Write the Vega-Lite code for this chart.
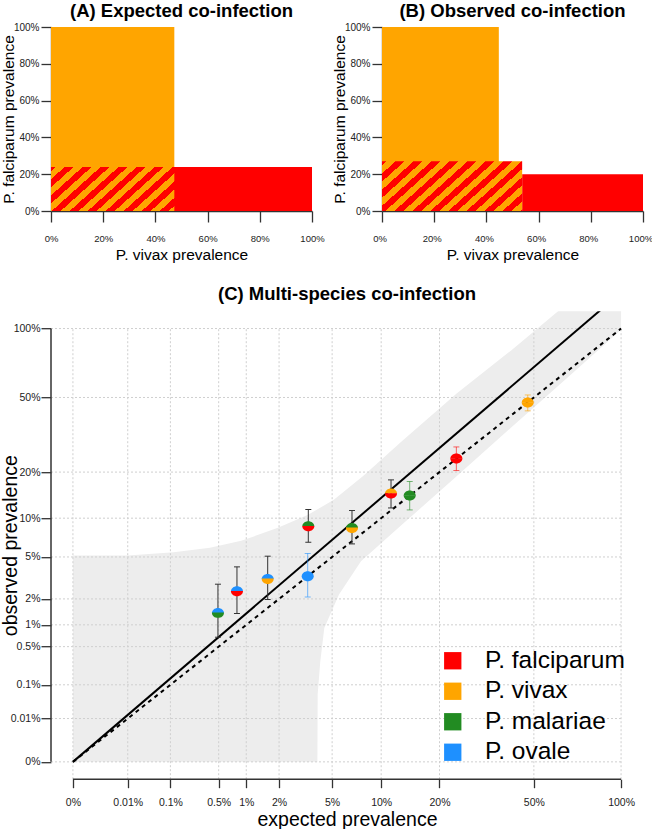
{
  "$schema": "https://vega.github.io/schema/vega-lite/v6.json",
  "padding": {"top": 2, "left": 0, "right": 0, "bottom": 0},
  "background": "white",
  "config": {
    "font": "Liberation Sans",
    "view": {"stroke": null},
    "axis": {"labelFont": "Liberation Sans", "titleFont": "Liberation Sans", "labelColor": "#222222", "titleColor": "#000000", "domainColor": "#333333", "tickColor": "#333333", "grid": false, "titleFontWeight": "normal", "zindex": 1, "labelOverlap": false, "tickCount": 20},
    "title": {"font": "Liberation Sans", "fontWeight": "bold", "fontSize": 18.5, "color": "#000000"}
  },
  "datasets": {
    "pts": [
      {"x": 0.0049, "y": 0.01397, "lo": 0.00685, "hi": 0.02826, "top": "P. ovale", "bottom": "P. malariae"},
      {"x": 0.00802, "y": 0.02407, "lo": 0.01375, "hi": 0.0410, "top": "P. ovale", "bottom": "P. falciparum"},
      {"x": 0.01594, "y": 0.03178, "lo": 0.01972, "hi": 0.05075, "top": "P. ovale", "bottom": "P. vivax"},
      {"x": 0.03365, "y": 0.03371, "lo": 0.02101, "hi": 0.05345, "top": "P. ovale", "bottom": "P. ovale"},
      {"x": 0.034, "y": 0.08747, "lo": 0.06603, "hi": 0.11504, "top": "P. malariae", "bottom": "P. falciparum"},
      {"x": 0.06718, "y": 0.08497, "lo": 0.06401, "hi": 0.11317, "top": "P. malariae", "bottom": "P. vivax"},
      {"x": 0.1134, "y": 0.1471, "lo": 0.1179, "hi": 0.1793, "top": "P. vivax", "bottom": "P. falciparum"},
      {"x": 0.1425, "y": 0.1428, "lo": 0.1143, "hi": 0.1752, "top": "P. malariae", "bottom": "P. malariae"},
      {"x": 0.2394, "y": 0.240, "lo": 0.2043, "hi": 0.279, "top": "P. falciparum", "bottom": "P. falciparum"},
      {"x": 0.474, "y": 0.473, "lo": 0.4305, "hi": 0.514, "top": "P. vivax", "bottom": "P. vivax"}
    ],
    "ticks": [{"v": 0}, {"v": 0.0001}, {"v": 0.001}, {"v": 0.005}, {"v": 0.01}, {"v": 0.02}, {"v": 0.05}, {"v": 0.1}, {"v": 0.2}, {"v": 0.5}, {"v": 1}],
    "bandUp": [
      {"x": 0, "y": 0.05134}, {"x": 0.0001, "y": 0.05155}, {"x": 0.001146, "y": 0.05488}, {"x": 0.003906, "y": 0.05955},
      {"x": 0.008883, "y": 0.067652}, {"x": 0.019565, "y": 0.085031}, {"x": 0.033871, "y": 0.10556}, {"x": 0.051337, "y": 0.13397},
      {"x": 0.078905, "y": 0.18975}, {"x": 0.1296, "y": 0.29987}, {"x": 0.2401, "y": 0.52201}, {"x": 0.4096, "y": 0.81451},
      {"x": 0.61344, "y": 1.16986}, {"x": 1, "y": 1.84206}
    ],
    "bandLo": [
      {"x": 0.03957, "y": 0}, {"x": 0.039745, "y": 0.000592}, {"x": 0.041482, "y": 0.002897}, {"x": 0.044232, "y": 0.009117},
      {"x": 0.055514, "y": 0.0222}, {"x": 0.07626, "y": 0.04595}, {"x": 0.1296, "y": 0.08953}, {"x": 0.2401, "y": 0.1886},
      {"x": 0.4096, "y": 0.3552}, {"x": 0.6561, "y": 0.61068}, {"x": 1, "y": 0.98807}
    ]
  },
  "spacing": 20.2,
  "resolve": {"scale": {"color": "independent"}, "legend": {"color": "independent"}},
  "vconcat": [
    {
      "spacing": 70,
      "bounds": "flush",
      "hconcat": [
        {
          "width": 261,
          "height": 184,
          "title": {"text": "(A) Expected co-infection", "frame": "group", "offset": -13.6, "baseline": "alphabetic", "anchor": "middle"},
          "layer": [
            {
              "data": {"values": [{"x": 0, "x2": 0.4725, "y": 0, "y2": 1}]},
              "mark": {"type": "rect", "color": "#FFA500"},
              "encoding": {
                "x": {"field": "x", "type": "quantitative", "scale": {"domain": [0, 1], "nice": false, "zero": false},
                  "axis": {"values": [0, 0.2, 0.4, 0.6, 0.8, 1], "tickCount": 20, "labelOverlap": false, "format": ".0%", "tickSize": 11, "tickWidth": 1.3, "domainWidth": 1.3, "labelPadding": 19, "labelBaseline": "alphabetic", "labelFontSize": 9.5, "labelFlush": false, "title": "P. vivax prevalence", "titleFontSize": 15.5, "titleY": 48.7, "titleBaseline": "alphabetic"}},
                "x2": {"field": "x2"},
                "y": {"field": "y", "type": "quantitative", "scale": {"domain": [0, 1], "nice": false, "zero": false},
                  "axis": {"values": [0, 0.2, 0.4, 0.6, 0.8, 1], "tickCount": 20, "labelOverlap": false, "format": ".0%", "tickSize": 10, "tickWidth": 1.3, "domainWidth": 1.3, "labelPadding": 2, "labelFontSize": 10, "labelFlush": false, "title": "P. falciparum prevalence", "titleFontSize": 15.5, "titleX": -37.6, "titleBaseline": "alphabetic"}},
                "y2": {"field": "y2"}
              }
            },
            {
              "data": {"values": [{"x": 0, "x2": 1, "y": 0, "y2": 0.239}]},
              "mark": {"type": "rect", "color": "#FF0000"},
              "encoding": {"x": {"field": "x", "type": "quantitative"}, "x2": {"field": "x2"}, "y": {"field": "y", "type": "quantitative"}, "y2": {"field": "y2"}}
            },
            {
              "data": {"values": [{"x": 0, "x2": 0.4725, "y": 0, "y2": 0.239}]},
              "mark": {"type": "rect", "color": {"gradient": "linear", "x1": 0, "y1": 0, "x2": 1.2068, "y2": 0.4785, "stops": [
                {"offset": 0, "color": "#FF0000"},
                {"offset": 0.0261, "color": "#FF0000"}, {"offset": 0.0261, "color": "#FFA500"},
                {"offset": 0.0784, "color": "#FFA500"}, {"offset": 0.0784, "color": "#FF0000"},
                {"offset": 0.1307, "color": "#FF0000"}, {"offset": 0.1307, "color": "#FFA500"},
                {"offset": 0.1830, "color": "#FFA500"}, {"offset": 0.1830, "color": "#FF0000"},
                {"offset": 0.2352, "color": "#FF0000"}, {"offset": 0.2352, "color": "#FFA500"},
                {"offset": 0.2875, "color": "#FFA500"}, {"offset": 0.2875, "color": "#FF0000"},
                {"offset": 0.3398, "color": "#FF0000"}, {"offset": 0.3398, "color": "#FFA500"},
                {"offset": 0.3920, "color": "#FFA500"}, {"offset": 0.3920, "color": "#FF0000"},
                {"offset": 0.4443, "color": "#FF0000"}, {"offset": 0.4443, "color": "#FFA500"},
                {"offset": 0.4966, "color": "#FFA500"}, {"offset": 0.4966, "color": "#FF0000"},
                {"offset": 0.5488, "color": "#FF0000"}, {"offset": 0.5488, "color": "#FFA500"},
                {"offset": 0.6011, "color": "#FFA500"}, {"offset": 0.6011, "color": "#FF0000"},
                {"offset": 0.6534, "color": "#FF0000"}, {"offset": 0.6534, "color": "#FFA500"},
                {"offset": 0.7056, "color": "#FFA500"}, {"offset": 0.7056, "color": "#FF0000"},
                {"offset": 0.7579, "color": "#FF0000"}, {"offset": 0.7579, "color": "#FFA500"},
                {"offset": 0.8102, "color": "#FFA500"}, {"offset": 0.8102, "color": "#FF0000"},
                {"offset": 0.8624, "color": "#FF0000"}, {"offset": 0.8624, "color": "#FFA500"},
                {"offset": 0.9147, "color": "#FFA500"}, {"offset": 0.9147, "color": "#FF0000"},
                {"offset": 0.9670, "color": "#FF0000"}, {"offset": 0.9670, "color": "#FFA500"},
                {"offset": 1, "color": "#FFA500"}
              ]}},
              "encoding": {"x": {"field": "x", "type": "quantitative"}, "x2": {"field": "x2"}, "y": {"field": "y", "type": "quantitative"}, "y2": {"field": "y2"}}
            }
          ]
        },
        {
          "width": 261,
          "height": 184,
          "title": {"text": "(B) Observed co-infection", "frame": "group", "offset": -13.6, "baseline": "alphabetic", "anchor": "middle"},
          "layer": [
            {
              "data": {"values": [{"x": 0, "x2": 0.4476, "y": 0, "y2": 1}]},
              "mark": {"type": "rect", "color": "#FFA500"},
              "encoding": {
                "x": {"field": "x", "type": "quantitative", "scale": {"domain": [0, 1], "nice": false, "zero": false},
                  "axis": {"values": [0, 0.2, 0.4, 0.6, 0.8, 1], "tickCount": 20, "labelOverlap": false, "format": ".0%", "tickSize": 11, "tickWidth": 1.3, "domainWidth": 1.3, "labelPadding": 19, "labelOffset": -2.5, "labelBaseline": "alphabetic", "labelFontSize": 9.5, "labelFlush": false, "title": "P. vivax prevalence", "titleFontSize": 15.5, "titleY": 48.7, "titleBaseline": "alphabetic"}},
                "x2": {"field": "x2"},
                "y": {"field": "y", "type": "quantitative", "scale": {"domain": [0, 1], "nice": false, "zero": false},
                  "axis": {"values": [0, 0.2, 0.4, 0.6, 0.8, 1], "tickCount": 20, "labelOverlap": false, "format": ".0%", "tickSize": 10, "tickWidth": 1.3, "domainWidth": 1.3, "labelPadding": 2, "labelFontSize": 10, "labelFlush": false, "title": "P. falciparum prevalence", "titleFontSize": 15.5, "titleX": -37.6, "titleBaseline": "alphabetic"}},
                "y2": {"field": "y2"}
              }
            },
            {
              "data": {"values": [{"x": 0.537, "x2": 1, "y": 0, "y2": 0.1995}]},
              "mark": {"type": "rect", "color": "#FF0000"},
              "encoding": {"x": {"field": "x", "type": "quantitative"}, "x2": {"field": "x2"}, "y": {"field": "y", "type": "quantitative"}, "y2": {"field": "y2"}}
            },
            {
              "data": {"values": [{"x": 0, "x2": 0.537, "y": 0, "y2": 0.27}]},
              "mark": {"type": "rect", "color": {"gradient": "linear", "x1": 0, "y1": 0, "x2": 1.2068, "y2": 0.4760, "stops": [
                {"offset": 0, "color": "#FF0000"},
                {"offset": 0.0230, "color": "#FF0000"}, {"offset": 0.0230, "color": "#FFA500"},
                {"offset": 0.0691, "color": "#FFA500"}, {"offset": 0.0691, "color": "#FF0000"},
                {"offset": 0.1152, "color": "#FF0000"}, {"offset": 0.1152, "color": "#FFA500"},
                {"offset": 0.1613, "color": "#FFA500"}, {"offset": 0.1613, "color": "#FF0000"},
                {"offset": 0.2074, "color": "#FF0000"}, {"offset": 0.2074, "color": "#FFA500"},
                {"offset": 0.2535, "color": "#FFA500"}, {"offset": 0.2535, "color": "#FF0000"},
                {"offset": 0.2996, "color": "#FF0000"}, {"offset": 0.2996, "color": "#FFA500"},
                {"offset": 0.3457, "color": "#FFA500"}, {"offset": 0.3457, "color": "#FF0000"},
                {"offset": 0.3918, "color": "#FF0000"}, {"offset": 0.3918, "color": "#FFA500"},
                {"offset": 0.4379, "color": "#FFA500"}, {"offset": 0.4379, "color": "#FF0000"},
                {"offset": 0.4840, "color": "#FF0000"}, {"offset": 0.4840, "color": "#FFA500"},
                {"offset": 0.5301, "color": "#FFA500"}, {"offset": 0.5301, "color": "#FF0000"},
                {"offset": 0.5762, "color": "#FF0000"}, {"offset": 0.5762, "color": "#FFA500"},
                {"offset": 0.6223, "color": "#FFA500"}, {"offset": 0.6223, "color": "#FF0000"},
                {"offset": 0.6684, "color": "#FF0000"}, {"offset": 0.6684, "color": "#FFA500"},
                {"offset": 0.7145, "color": "#FFA500"}, {"offset": 0.7145, "color": "#FF0000"},
                {"offset": 0.7606, "color": "#FF0000"}, {"offset": 0.7606, "color": "#FFA500"},
                {"offset": 0.8067, "color": "#FFA500"}, {"offset": 0.8067, "color": "#FF0000"},
                {"offset": 0.8528, "color": "#FF0000"}, {"offset": 0.8528, "color": "#FFA500"},
                {"offset": 0.8989, "color": "#FFA500"}, {"offset": 0.8989, "color": "#FF0000"},
                {"offset": 0.9450, "color": "#FF0000"}, {"offset": 0.9450, "color": "#FFA500"},
                {"offset": 0.9911, "color": "#FFA500"}, {"offset": 0.9911, "color": "#FF0000"},
                {"offset": 1, "color": "#FF0000"}
              ]}},
              "encoding": {"x": {"field": "x", "type": "quantitative"}, "x2": {"field": "x2"}, "y": {"field": "y", "type": "quantitative"}, "y2": {"field": "y2"}}
            }
          ]
        }
      ]
    },
    {
      "width": 592,
      "height": 468,
      "title": {"text": "(C) Multi-species co-infection", "frame": "group", "offset": -7, "baseline": "alphabetic", "anchor": "middle"},
      "layer": [
        {
          "data": {"name": "bandUp"},
          "mark": {"type": "area", "color": "#EDEDED", "opacity": 1, "clip": true},
          "encoding": {
            "x": {"field": "x", "type": "quantitative",
              "scale": {"type": "pow", "exponent": 0.25, "domain": [-0.00000256, 1.16986], "nice": false, "zero": false},
              "axis": {"values": [0, 0.0001, 0.001, 0.005, 0.01, 0.02, 0.05, 0.1, 0.2, 0.5, 1], "tickCount": 20, "labelExpr": "format(datum.value * 100, '~g') + '%'", "domain": false, "tickSize": 8.5, "tickWidth": 1.3, "labelPadding": 17.5, "labelBaseline": "alphabetic", "labelFontSize": 10.5, "labelFlush": false, "title": "expected prevalence", "titleFontSize": 19.5, "titleY": 46, "titleBaseline": "alphabetic"}},
            "y": {"field": "y", "type": "quantitative",
              "scale": {"type": "pow", "exponent": 0.25, "domain": [-0.00000256, 1.16986], "nice": false, "zero": false},
              "axis": {"values": [0, 0.0001, 0.001, 0.005, 0.01, 0.02, 0.05, 0.1, 0.2, 0.5, 1], "tickCount": 20, "labelExpr": "format(datum.value * 100, '~g') + '%'", "domain": false, "tickSize": 10, "tickWidth": 1.3, "labelPadding": 1, "labelFontSize": 10.5, "labelFlush": false, "title": "observed prevalence", "titleFontSize": 19.5, "titleX": -34.4, "titleBaseline": "alphabetic"}},
            "y2": {"datum": 0}
          }
        },
        {
          "data": {"name": "bandLo"},
          "mark": {"type": "area", "color": "#FFFFFF", "opacity": 1, "clip": true},
          "encoding": {
            "x": {"field": "x", "type": "quantitative"},
            "y": {"field": "y", "type": "quantitative"},
            "y2": {"datum": -0.00000256}
          }
        },
        {
          "data": {"name": "ticks"},
          "mark": {"type": "rule", "color": "#CFCFCF", "strokeDash": [2, 2], "strokeWidth": 1},
          "encoding": {"x": {"field": "v", "type": "quantitative"}, "y": {"datum": -0.00000256}, "y2": {"datum": 1}}
        },
        {
          "data": {"name": "ticks"},
          "mark": {"type": "rule", "color": "#CFCFCF", "strokeDash": [2, 2], "strokeWidth": 1},
          "encoding": {"y": {"field": "v", "type": "quantitative"}, "x": {"datum": -0.00000256}, "x2": {"datum": 1}}
        },
        {
          "data": {"values": [{"a": 0, "b": 1}]},
          "mark": {"type": "rule", "color": "#333333", "strokeWidth": 1.5},
          "encoding": {"x": {"field": "a", "type": "quantitative"}, "x2": {"field": "b"}, "y": {"datum": -0.00000256}}
        },
        {
          "data": {"values": [{"a": 0, "b": 1}]},
          "mark": {"type": "rule", "color": "#333333", "strokeWidth": 1.5},
          "encoding": {"y": {"field": "a", "type": "quantitative"}, "y2": {"field": "b"}, "x": {"datum": -0.00000256}}
        },
        {
          "data": {"values": [{"x": 0, "y": 0}, {"x": 1, "y": 1}]},
          "mark": {"type": "line", "color": "#000000", "strokeWidth": 2, "strokeDash": [4, 4], "clip": true},
          "encoding": {"x": {"field": "x", "type": "quantitative"}, "y": {"field": "y", "type": "quantitative"}}
        },
        {
          "data": {"values": [{"x": 0, "y": 0}, {"x": 1, "y": 1.377}]},
          "mark": {"type": "line", "color": "#000000", "strokeWidth": 2, "clip": true},
          "encoding": {"x": {"field": "x", "type": "quantitative"}, "y": {"field": "y", "type": "quantitative"}}
        },
        {
          "data": {"name": "pts"},
          "mark": {"type": "rule", "strokeWidth": 1},
          "encoding": {
            "x": {"field": "x", "type": "quantitative"},
            "y": {"field": "lo", "type": "quantitative"},
            "y2": {"field": "hi"},
            "stroke": {"condition": {"test": "datum.top === datum.bottom", "field": "top", "type": "nominal", "legend": null,
              "scale": {"domain": ["P. falciparum", "P. vivax", "P. malariae", "P. ovale"], "range": ["#FF0000", "#FFA500", "#228B22", "#1E90FF"]}}, "value": "#333333"},
            "opacity": {"condition": {"test": "datum.top === datum.bottom", "value": 0.6}, "value": 1}
          }
        },
        {
          "data": {"name": "pts"},
          "mark": {"type": "tick", "orient": "horizontal", "size": 6, "thickness": 1},
          "encoding": {
            "x": {"field": "x", "type": "quantitative"},
            "y": {"field": "lo", "type": "quantitative"},
            "fill": {"condition": {"test": "datum.top === datum.bottom", "field": "top", "type": "nominal", "legend": null,
              "scale": {"domain": ["P. falciparum", "P. vivax", "P. malariae", "P. ovale"], "range": ["#FF0000", "#FFA500", "#228B22", "#1E90FF"]}}, "value": "#333333"},
            "opacity": {"condition": {"test": "datum.top === datum.bottom", "value": 0.6}, "value": 1}
          }
        },
        {
          "data": {"name": "pts"},
          "mark": {"type": "tick", "orient": "horizontal", "size": 6, "thickness": 1},
          "encoding": {
            "x": {"field": "x", "type": "quantitative"},
            "y": {"field": "hi", "type": "quantitative"},
            "fill": {"condition": {"test": "datum.top === datum.bottom", "field": "top", "type": "nominal", "legend": null,
              "scale": {"domain": ["P. falciparum", "P. vivax", "P. malariae", "P. ovale"], "range": ["#FF0000", "#FFA500", "#228B22", "#1E90FF"]}}, "value": "#333333"},
            "opacity": {"condition": {"test": "datum.top === datum.bottom", "value": 0.6}, "value": 1}
          }
        },
        {
          "data": {"name": "pts"},
          "transform": [{"fold": ["top", "bottom"], "as": ["half", "species"]}],
          "mark": {"type": "point", "filled": true, "size": 144, "opacity": 1, "strokeWidth": 0},
          "encoding": {
            "x": {"field": "x", "type": "quantitative"},
            "y": {"field": "y", "type": "quantitative"},
            "shape": {"field": "half", "type": "nominal", "legend": null,
              "scale": {"domain": ["top", "bottom"], "range": ["M-1,0C-1,-0.46,-0.55,-0.83,0,-0.83C0.55,-0.83,1,-0.46,1,0Z", "M-1,-0.05L1,-0.05L1,0C1,0.46,0.55,0.83,0,0.83C-0.55,0.83,-1,0.46,-1,0Z"]}},
            "color": {"field": "species", "type": "nominal",
              "scale": {"domain": ["P. falciparum", "P. vivax", "P. malariae", "P. ovale"], "range": ["#FF0000", "#FFA500", "#228B22", "#1E90FF"]},
              "legend": {"title": null, "orient": "none", "legendX": 389.5, "legendY": 337.3, "symbolType": "square", "symbolSize": 300, "symbolStrokeWidth": 0, "symbolOpacity": 1, "labelFontSize": 24.5, "labelFont": "Liberation Sans", "labelColor": "#000000", "labelOffset": 20, "labelLimit": 300, "rowPadding": 5.5, "padding": 0}}
          }
        }
      ]
    }
  ]
}
